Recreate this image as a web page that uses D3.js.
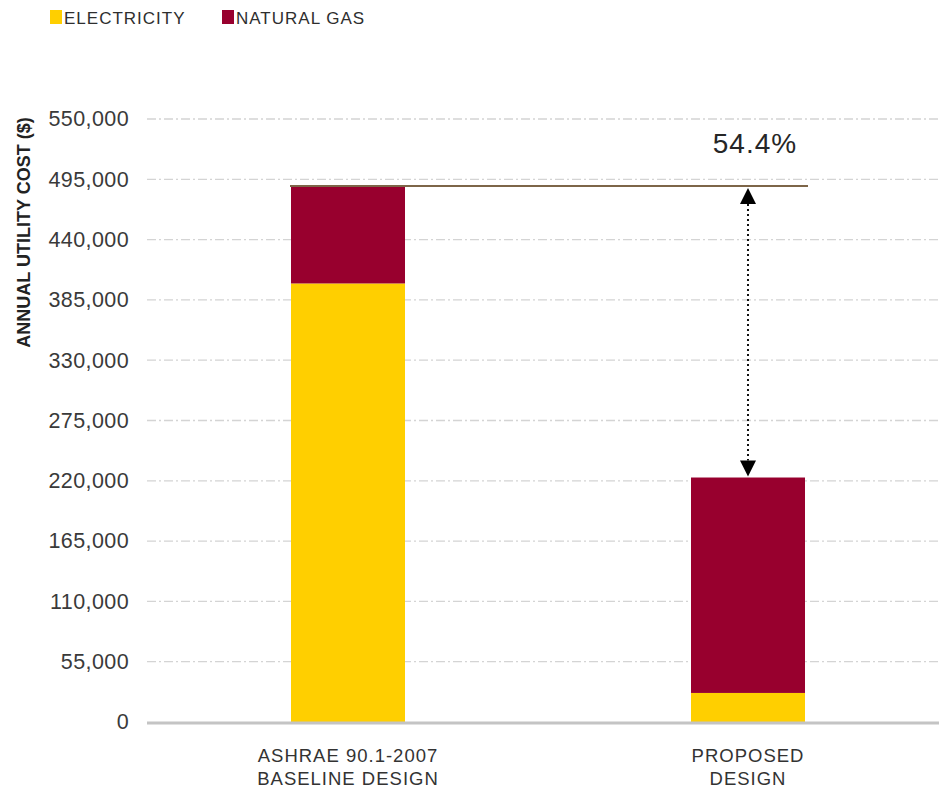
<!DOCTYPE html>
<html>
<head>
<meta charset="utf-8">
<script src="https://cdn.jsdelivr.net/npm/d3@7"></script>
<style>
  html, body { margin: 0; padding: 0; background: #fff; }
  svg { display: block; }
  svg text { font-family: "Liberation Sans", Arial, sans-serif; }
</style>
</head>
<body>
<svg id="chart" width="939" height="791"></svg>
<script>
// Annual utility cost by design case, split by fuel
const categories = ["ASHRAE 90.1-2007\nBASELINE DESIGN", "PROPOSED\nDESIGN"];
const seriesNames = ["ELECTRICITY", "NATURAL GAS"];
const electricity = [400000, 26500];
const naturalGas = [89000, 196500];
const yTicks = [0, 55000, 110000, 165000, 220000, 275000, 330000, 385000, 440000, 495000, 550000];
const savingsLabel = "54.4%";
const colors = ["#FFCF00", "#98002E"];

const svg = d3.select("#chart");
const W = 939, H = 791;
const plotLeft = 147, plotRight = 947, plotTop = 119, plotBottom = 722;

const x = d3.scaleBand()
  .domain(categories)
  .range([plotLeft + 1, plotRight + 1])
  .paddingInner(0.715)
  .paddingOuter(0.3575);

const y = d3.scaleLinear().domain([0, 550000]).range([plotBottom, plotTop]);

// Gridlines
svg.append("g")
  .selectAll("line")
  .data(yTicks.filter(d => d > 0))
  .join("line")
  .attr("x1", plotLeft).attr("x2", W)
  .attr("y1", d => y(d)).attr("y2", d => y(d))
  .attr("stroke", "#d4d4d4")
  .attr("stroke-width", 1.3)
  .attr("stroke-dasharray", "9,3,2,3");

// Y axis labels
const yAxis = d3.axisLeft(y)
  .tickValues(yTicks)
  .tickFormat(d3.format(","))
  .tickSize(0)
  .tickPadding(0);
const gy = svg.append("g").attr("transform", `translate(${plotLeft - 18},0)`).call(yAxis);
gy.select(".domain").remove();
gy.selectAll("text")
  .attr("font-family", "'Liberation Sans', Arial, sans-serif")
  .attr("font-size", 21.5)
  .attr("letter-spacing", 0.4)
  .attr("fill", "#3a3a3a");

// Stacked bars
const rows = categories.map((c, i) => ({ cat: c, ELECTRICITY: electricity[i], "NATURAL GAS": naturalGas[i] }));
const stack = d3.stack().keys(seriesNames)(rows);
svg.append("g")
  .selectAll("g")
  .data(stack)
  .join("g")
  .attr("fill", (d, i) => colors[i])
  .selectAll("rect")
  .data(d => d)
  .join("rect")
  .attr("x", d => x(d.data.cat))
  .attr("width", x.bandwidth())
  .attr("y", d => y(d[1]))
  .attr("height", d => y(d[0]) - y(d[1]));

// Zero baseline
svg.append("line")
  .attr("x1", plotLeft).attr("x2", W)
  .attr("y1", y(0) + 1).attr("y2", y(0) + 1)
  .attr("stroke", "#c4c4c4")
  .attr("stroke-width", 3);

// Category labels
const xl = svg.append("g");
categories.forEach(c => {
  const cx = x(c) + x.bandwidth() / 2;
  const t = xl.append("text")
    .attr("x", cx)
    .attr("y", 762)
    .attr("text-anchor", "middle")
    .attr("font-size", 18.5)
    .attr("letter-spacing", 1)
    .attr("fill", "#333");
  c.split("\n").forEach((line, j) => {
    t.append("tspan").attr("x", cx).attr("dy", j === 0 ? 0 : 23).text(line);
  });
});

// Reference line at baseline total and savings arrow
const baseTotal = electricity[0] + naturalGas[0];
const propTotal = electricity[1] + naturalGas[1];
const refEnd = x(categories[1]) + x.bandwidth() + 3;
svg.append("line")
  .attr("x1", x(categories[0]) - 1).attr("x2", refEnd)
  .attr("y1", y(baseTotal)).attr("y2", y(baseTotal))
  .attr("stroke", "#7d6548").attr("stroke-width", 2);

const ax = x(categories[1]) + x.bandwidth() / 2;
const yTop = y(baseTotal) + 2, yBot = y(propTotal) - 1;
const head = 16, hw = 8;
svg.append("line")
  .attr("x1", ax).attr("x2", ax)
  .attr("y1", yTop + head).attr("y2", yBot - head)
  .attr("stroke", "#111").attr("stroke-width", 2)
  .attr("stroke-dasharray", "2,3");
svg.append("path")
  .attr("d", `M${ax},${yTop} L${ax - hw},${yTop + head} L${ax + hw},${yTop + head} Z`)
  .attr("fill", "#000");
svg.append("path")
  .attr("d", `M${ax},${yBot} L${ax - hw},${yBot - head} L${ax + hw},${yBot - head} Z`)
  .attr("fill", "#000");

svg.append("text")
  .attr("x", ax + 7)
  .attr("y", 153)
  .attr("text-anchor", "middle")
  .attr("font-size", 28)
  .attr("letter-spacing", 1)
  .attr("fill", "#262626")
  .text(savingsLabel);

// Y axis title
svg.append("text")
  .attr("transform", `translate(30,${232.5}) rotate(-90)`)
  .attr("text-anchor", "middle")
  .attr("font-size", 18)
  .attr("font-weight", "bold")
  .attr("fill", "#222")
  .text("ANNUAL UTILITY COST ($)");

// Legend
const lg = svg.append("g");
const legendX = [50, 222];
seriesNames.forEach((s, i) => {
  lg.append("rect").attr("x", legendX[i]).attr("y", 10).attr("width", 12).attr("height", 14).attr("fill", colors[i]);
  lg.append("text").attr("x", legendX[i] + 14).attr("y", 23.5)
    .attr("font-size", 17).attr("letter-spacing", 1)
    .attr("fill", "#2e2e2e").text(s);
});
</script>
</body>
</html>
